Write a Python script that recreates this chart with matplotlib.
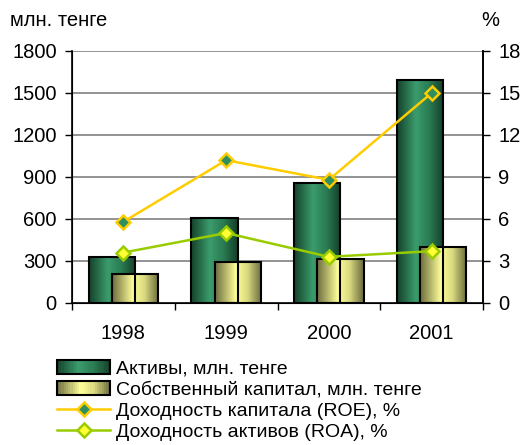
import matplotlib

matplotlib.use("Agg")
import matplotlib.pyplot as plt
import numpy as np
from matplotlib.colors import LinearSegmentedColormap
from matplotlib.legend_handler import HandlerBase
from matplotlib.lines import Line2D
from matplotlib.patches import Rectangle

plt.rcParams["font.family"] = ["Liberation Sans", "DejaVu Sans"]

years = ["1998", "1999", "2000", "2001"]
assets = [330, 610, 860, 1590]
equity = [205, 290, 315, 400]
roe = [5.8, 10.2, 8.8, 15.0]
roa = [3.6, 5.0, 3.3, 3.7]

left_ticks = [0, 300, 600, 900, 1200, 1500, 1800]
right_ticks = [0, 3, 6, 9, 12, 15, 18]

green_cmap = LinearSegmentedColormap.from_list(
    "g", [(0, "#15422b"), (0.4, "#3a9c6c"), (0.7, "#2a7a52"), (1, "#143f29")])
yellow_cmap = LinearSegmentedColormap.from_list(
    "y", [(0, "#6e6e40"), (0.45, "#ffff99"), (0.7, "#d8d880"), (1, "#6a6a3c")])
grad = np.linspace(0, 1, 64).reshape(1, -1)
FS = 14.5


def gradient_bars(ax, xs, heights, width, cmap):
    for x, h in zip(xs, heights):
        x0 = x - width / 2
        im = ax.imshow(grad, cmap=cmap, aspect="auto",
                       extent=(x0, x0 + width, 0, h), zorder=2)
        rect = Rectangle((x0, 0), width, h, facecolor="none",
                         edgecolor="black", linewidth=1.5, zorder=3)
        ax.add_patch(rect)
        im.set_clip_path(rect)


class GradientHandler(HandlerBase):
    def __init__(self, cmap):
        super().__init__()
        self.cmap = cmap

    def create_artists(self, legend, orig_handle, xdescent, ydescent,
                       width, height, fontsize, trans):
        n = 24
        arts = []
        for i in range(n):
            r = Rectangle((xdescent + width * i / n, ydescent), width / n + 0.3,
                          height, facecolor=self.cmap((i + 0.5) / n),
                          edgecolor="none", transform=trans)
            arts.append(r)
        arts.append(Rectangle((xdescent, ydescent), width, height,
                              facecolor="none", edgecolor="black",
                              linewidth=1.5, transform=trans))
        return arts


fig = plt.figure(figsize=(5.28, 4.45), dpi=100)
ax = fig.add_axes([72 / 528, 142 / 445, 411 / 528, 252 / 445])
x = np.arange(len(years))
w = 0.45
off = 0.112

ax.set_xlim(-0.5, len(years) - 0.5)
ax.set_ylim(0, 1800)
ax.set_yticks(left_ticks)
for t in left_ticks[1:]:
    ax.axhline(t, color="#808080", linewidth=1.2, zorder=1)

gradient_bars(ax, x - off, assets, w, green_cmap)
gradient_bars(ax, x + off, equity, w, yellow_cmap)

ax.set_xticks(x)
ax.set_xticklabels(years, fontsize=FS)
ax.set_xticks(np.arange(-0.5, len(years)), minor=True)
ax.tick_params(axis="x", which="major", length=0, pad=15)
ax.tick_params(axis="x", which="minor", length=5, width=1, direction="out")
ax.tick_params(axis="y", labelsize=FS, length=5, width=1, direction="out", pad=6)
ax.spines["top"].set_visible(False)
for s in ["left", "right", "bottom"]:
    ax.spines[s].set_linewidth(1.2)
ax.set_aspect("auto")

ax2 = ax.twinx()
ax2.set_ylim(0, 18)
ax2.set_yticks(right_ticks)
ax2.tick_params(axis="y", labelsize=FS, length=5, width=1, direction="out", pad=6)
ax2.spines["top"].set_visible(False)
ax2.spines["right"].set_linewidth(1.2)
ax2.plot(x, roe, color="#ffcc00", linewidth=1.8, marker="D", markersize=7,
         markerfacecolor="#2f8f5f", markeredgecolor="#ffcc00",
         markeredgewidth=1.8, zorder=4)
ax2.plot(x, roa, color="#99cc00", linewidth=1.8, marker="D", markersize=7,
         markerfacecolor="#ffff33", markeredgecolor="#99cc00",
         markeredgewidth=1.8, zorder=4)

fig.text(10 / 528, 1 - 21 / 445, "млн. тенге", fontsize=FS, va="center")
fig.text(490 / 528, 1 - 21 / 445, "%", fontsize=FS, va="center", ha="center")

h_assets = Rectangle((0, 0), 1, 1)
h_equity = Rectangle((0, 0), 1, 1)
h_roe = Line2D([], [], color="#ffcc00", linewidth=1.8, marker="D", markersize=7,
               markerfacecolor="#2f8f5f", markeredgecolor="#ffcc00",
               markeredgewidth=1.8)
h_roa = Line2D([], [], color="#99cc00", linewidth=1.8, marker="D", markersize=7,
               markerfacecolor="#ffff33", markeredgecolor="#99cc00",
               markeredgewidth=1.8)
fig.legend([h_assets, h_equity, h_roe, h_roa],
           ["Активы, млн. тенге", "Собственный капитал, млн. тенге",
            "Доходность капитала (ROE), %", "Доходность активов (ROA), %"],
           handler_map={h_assets: GradientHandler(green_cmap),
                        h_equity: GradientHandler(yellow_cmap)},
           loc="upper left", bbox_to_anchor=(57 / 528, 1 - 360 / 445),
           frameon=False, fontsize=14, handlelength=2.75, handleheight=0.72,
           handletextpad=0.3, labelspacing=0.17, borderpad=0,
           borderaxespad=0)

fig.savefig("out.png", dpi=100)
